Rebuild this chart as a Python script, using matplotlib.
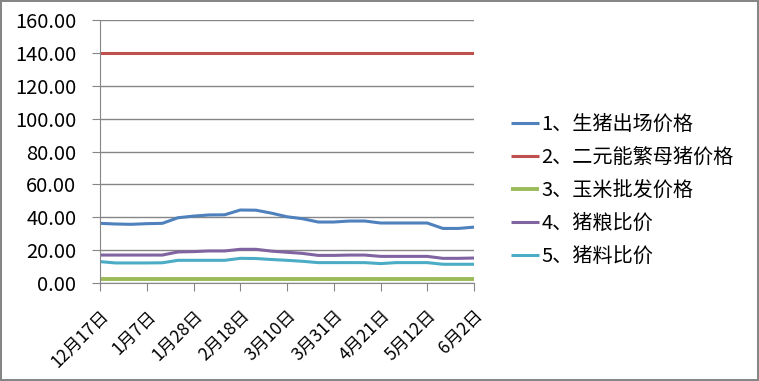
import matplotlib
matplotlib.use('Agg')
import matplotlib.pyplot as plt
from matplotlib.ticker import FormatStrFormatter

plt.rcParams['font.family'] = ['Noto Sans CJK SC', 'DejaVu Sans']

# weekly dates, 12/17 .. 6/2 (25 points)
dates = ['12月17日', '12月24日', '12月31日', '1月7日', '1月14日', '1月21日', '1月28日',
         '2月4日', '2月11日', '2月18日', '2月25日', '3月3日', '3月10日', '3月17日',
         '3月24日', '3月31日', '4月7日', '4月14日', '4月21日', '4月28日', '5月5日',
         '5月12日', '5月19日', '5月26日', '6月2日']

hog_price = [36.3, 35.9, 35.7, 36.1, 36.3, 39.7, 40.7, 41.4, 41.5, 44.4, 44.3, 42.5,
             40.3, 39.1, 37.1, 37.1, 37.7, 37.7, 36.5, 36.5, 36.5, 36.5, 33.2, 33.2, 34.0]
sow_price = [140.0] * 25
corn_price = [2.3] * 25
hog_grain = [17.0, 17.0, 17.0, 17.0, 17.0, 18.9, 19.1, 19.5, 19.5, 20.5, 20.5, 19.4,
             18.7, 18.0, 16.8, 16.8, 17.0, 17.0, 16.2, 16.2, 16.2, 16.2, 15.0, 15.0, 15.2]
hog_feed = [13.0, 12.2, 12.2, 12.2, 12.3, 13.8, 13.8, 13.8, 13.8, 15.0, 14.9, 14.3,
            13.8, 13.2, 12.4, 12.4, 12.4, 12.4, 11.8, 12.4, 12.4, 12.4, 11.4, 11.4, 11.4]

labels = ['1、生猪出场价格', '2、二元能繁母猪价格', '3、玉米批发价格', '4、猪粮比价', '5、猪料比价']
colors = ['#4F81BD', '#C0504D', '#9BBB59', '#8064A2', '#4BACC6']
series = [hog_price, sow_price, corn_price, hog_grain, hog_feed]

fig = plt.figure(figsize=(7.59, 3.81), dpi=100)
fig.patch.set_edgecolor('#868686')
fig.patch.set_linewidth(1.5)
ax = fig.add_axes([0.1318, 0.2572, 0.4927, 0.6903])

x = list(range(len(dates)))
for s, lab, c in zip(series, labels, colors):
    lw = 2.8 if c == '#9BBB59' else 2.2
    ax.plot(x, s, color=c, lw=lw, label=lab, solid_capstyle='butt')

ax.set_xlim(0, 24)
ax.set_ylim(0, 160)
ax.set_yticks(range(0, 161, 20))
ax.yaxis.set_major_formatter(FormatStrFormatter('%.2f'))
ax.grid(axis='y', color='#868686', lw=1)
ax.set_axisbelow(True)

ticks = x[::3]
ax.set_xticks(ticks)
ax.set_xticklabels([dates[i] for i in ticks], rotation=45, ha='right',
                   rotation_mode='anchor', fontsize=12.5)
ax.tick_params(axis='y', labelsize=14.5, length=6, color='#868686', pad=11)
ax.tick_params(axis='x', length=6, color='#868686', pad=11)

for sp in ['top', 'right']:
    ax.spines[sp].set_visible(False)
for sp in ['left', 'bottom']:
    ax.spines[sp].set_color('#868686')

fig.legend(loc='center left', bbox_to_anchor=(0.673, 0.5), frameon=False,
           fontsize=14.5, handlelength=1.4, handletextpad=0.12,
           labelspacing=0.6, borderpad=0, borderaxespad=0)

fig.savefig('out.png', dpi=100)
